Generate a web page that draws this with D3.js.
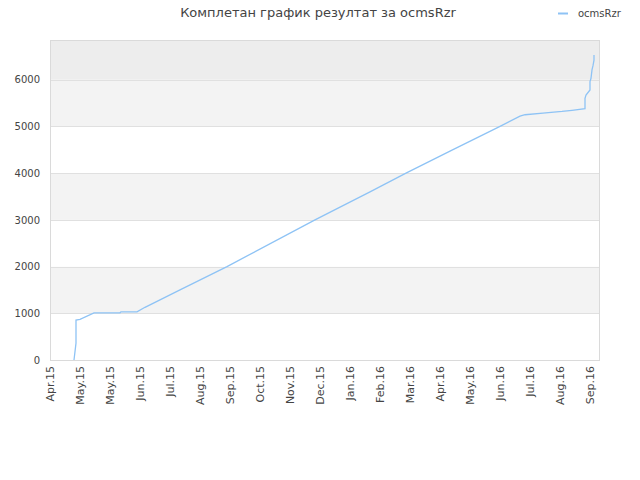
<!DOCTYPE html>
<html>
<head>
<meta charset="utf-8">
<script src="https://cdn.jsdelivr.net/npm/d3@7"></script>
<style>
  body { margin: 0; background: #fff; }
  svg text { font-family: "DejaVu Sans", sans-serif; fill: #444; }
</style>
</head>
<body>
<div id="chart"></div>
<script>
(function () {
    "use strict";

    var title = "Комплетан график резултат за ocmsRzr";
    var seriesName = "ocmsRzr";

    // x ticks every 30 days from the start, labels as printed
    var tickLabels = ["Apr.15", "May.15", "May.15", "Jun.15", "Jul.15", "Aug.15", "Sep.15",
        "Oct.15", "Nov.15", "Dec.15", "Jan.16", "Feb.16", "Mar.16", "Apr.16", "May.16",
        "Jun.16", "Jul.16", "Aug.16", "Sep.16"];
    var yTicks = [0, 1000, 2000, 3000, 4000, 5000, 6000];

    var pointDates = ["2015-04-25", "2015-04-27", "2015-04-27", "2015-05-01", "2015-05-15",
        "2015-06-10", "2015-06-11", "2015-06-27", "2015-07-05", "2015-08-09", "2015-09-25",
        "2015-12-22", "2016-02-15", "2016-03-22", "2016-05-05", "2016-06-24", "2016-07-14",
        "2016-07-19", "2016-08-06", "2016-08-25", "2016-09-04", "2016-09-17", "2016-09-17",
        "2016-09-18", "2016-09-22", "2016-09-22", "2016-09-23", "2016-09-24", "2016-09-25",
        "2016-09-26", "2016-09-26"];
    var pointValues = [0, 360, 855, 870, 1010,
        1010, 1030, 1030, 1128, 1500, 2000,
        3000, 3600, 4000, 4470, 5000, 5220,
        5250, 5285, 5320, 5345, 5380, 5600,
        5670, 5780, 5960, 6030, 6210, 6300,
        6420, 6530];

    var W = 640, H = 480;
    var left = 50, right = 600, top = 40, bottom = 360;
    var parse = d3.timeParse("%Y-%m-%d");
    var start = parse("2015-04-01");

    var x = d3.scaleTime()
        .domain([start, d3.timeDay.offset(start, 550)])
        .range([left, right]);
    var y = d3.scaleLinear().domain([0, 6850]).range([bottom, top]);

    var tickDates = tickLabels.map(function (l, i) { return d3.timeDay.offset(start, i * 30); });
    var data = pointDates.map(function (d, i) { return { date: parse(d), value: pointValues[i] }; });

    var svg = d3.select("#chart").append("svg")
        .attr("width", W).attr("height", H);

    // background bands
    var bands = yTicks.map(function (t, i) {
        return { lo: t, hi: i < yTicks.length - 1 ? yTicks[i + 1] : y.domain()[1], i: i };
    });
    svg.append("g").selectAll("rect").data(bands).enter().append("rect")
        .attr("x", left)
        .attr("width", right - left)
        .attr("y", function (d) { return y(d.hi); })
        .attr("height", function (d) { return y(d.lo) - y(d.hi); })
        .attr("fill", function (d) {
            if (d.i === yTicks.length - 1) return "#ededed";
            return d.i % 2 ? "#f3f3f3" : "#ffffff";
        });

    // grid lines
    svg.append("g").selectAll("line").data(yTicks.slice(1)).enter().append("line")
        .attr("x1", left).attr("x2", right)
        .attr("y1", function (d) { return Math.round(y(d)) + 0.5; })
        .attr("y2", function (d) { return Math.round(y(d)) + 0.5; })
        .attr("stroke", "#e0e0e0");

    // frame
    svg.append("rect")
        .attr("x", left + 0.5).attr("y", top + 0.5)
        .attr("width", right - left - 1).attr("height", bottom - top)
        .attr("fill", "none").attr("stroke", "#dadada");

    // y axis labels
    var yAxis = d3.axisLeft(y).tickValues(yTicks).tickSize(0).tickPadding(10)
        .tickFormat(d3.format("d"));
    svg.append("g").attr("transform", "translate(" + left + ",0)").call(yAxis)
        .call(function (g) { g.select(".domain").remove(); })
        .selectAll("text").style("font-size", "10px").attr("fill", "#444");

    // x axis labels
    var xAxis = d3.axisBottom(x).tickValues(tickDates).tickSize(0)
        .tickFormat(function (d, i) { return tickLabels[i]; });
    var gx = svg.append("g").attr("transform", "translate(0," + bottom + ")").call(xAxis);
    gx.select(".domain").remove();
    gx.selectAll("text")
        .style("font-size", "11px")
        .attr("fill", "#444")
        .attr("text-anchor", "end")
        .attr("dy", "0.35em")
        .attr("y", 0)
        .attr("transform", "translate(0,6) rotate(-90)");

    // series line
    var line = d3.line()
        .x(function (d) { return x(d.date); })
        .y(function (d) { return y(d.value); });
    svg.append("path").datum(data)
        .attr("d", line)
        .attr("fill", "none")
        .attr("stroke", "#8ec3f5")
        .attr("stroke-width", 1.3);

    // title
    svg.append("text")
        .attr("x", 318).attr("y", 17)
        .attr("text-anchor", "middle")
        .style("font-size", "13px")
        .attr("fill", "#444")
        .text(title);

    // legend
    svg.append("line")
        .attr("x1", 558).attr("x2", 568).attr("y1", 13.5).attr("y2", 13.5)
        .attr("stroke", "#8ec3f5").attr("stroke-width", 2);
    svg.append("text")
        .attr("x", 578).attr("y", 17)
        .style("font-size", "10px")
        .attr("fill", "#222")
        .text(seriesName);
}());
</script>
</body>
</html>
